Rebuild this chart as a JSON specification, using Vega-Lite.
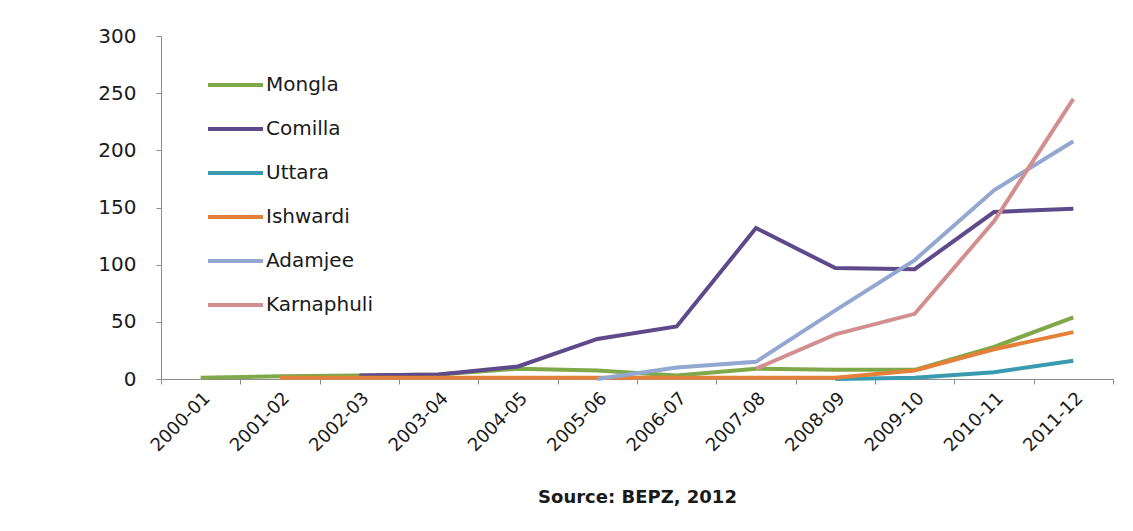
{
  "$schema": "https://vega.github.io/schema/vega-lite/v6.json",
  "autosize": "none",
  "width": 952,
  "height": 343,
  "padding": {"left": 161, "top": 36, "right": 20, "bottom": 152},
  "background": "white",
  "config": {
    "view": {"stroke": null},
    "font": "DejaVu Sans"
  },
  "data": {
    "values": [
      {"year": "2000-01", "zone": "Mongla", "value": 1},
      {"year": "2001-02", "zone": "Mongla", "value": 2.5},
      {"year": "2002-03", "zone": "Mongla", "value": 3},
      {"year": "2003-04", "zone": "Mongla", "value": 4},
      {"year": "2004-05", "zone": "Mongla", "value": 9},
      {"year": "2005-06", "zone": "Mongla", "value": 7.5},
      {"year": "2006-07", "zone": "Mongla", "value": 3},
      {"year": "2007-08", "zone": "Mongla", "value": 9},
      {"year": "2008-09", "zone": "Mongla", "value": 8},
      {"year": "2009-10", "zone": "Mongla", "value": 8},
      {"year": "2010-11", "zone": "Mongla", "value": 28},
      {"year": "2011-12", "zone": "Mongla", "value": 54},

      {"year": "2002-03", "zone": "Comilla", "value": 3},
      {"year": "2003-04", "zone": "Comilla", "value": 4},
      {"year": "2004-05", "zone": "Comilla", "value": 11},
      {"year": "2005-06", "zone": "Comilla", "value": 35},
      {"year": "2006-07", "zone": "Comilla", "value": 46},
      {"year": "2007-08", "zone": "Comilla", "value": 132},
      {"year": "2008-09", "zone": "Comilla", "value": 97},
      {"year": "2009-10", "zone": "Comilla", "value": 96},
      {"year": "2010-11", "zone": "Comilla", "value": 146},
      {"year": "2011-12", "zone": "Comilla", "value": 149},

      {"year": "2008-09", "zone": "Uttara", "value": 0},
      {"year": "2009-10", "zone": "Uttara", "value": 1},
      {"year": "2010-11", "zone": "Uttara", "value": 6},
      {"year": "2011-12", "zone": "Uttara", "value": 16},

      {"year": "2001-02", "zone": "Ishwardi", "value": 1},
      {"year": "2002-03", "zone": "Ishwardi", "value": 1},
      {"year": "2003-04", "zone": "Ishwardi", "value": 1},
      {"year": "2004-05", "zone": "Ishwardi", "value": 1},
      {"year": "2005-06", "zone": "Ishwardi", "value": 1},
      {"year": "2006-07", "zone": "Ishwardi", "value": 1},
      {"year": "2007-08", "zone": "Ishwardi", "value": 1},
      {"year": "2008-09", "zone": "Ishwardi", "value": 1},
      {"year": "2009-10", "zone": "Ishwardi", "value": 7.5},
      {"year": "2010-11", "zone": "Ishwardi", "value": 26},
      {"year": "2011-12", "zone": "Ishwardi", "value": 41},

      {"year": "2005-06", "zone": "Adamjee", "value": 0},
      {"year": "2006-07", "zone": "Adamjee", "value": 10},
      {"year": "2007-08", "zone": "Adamjee", "value": 15},
      {"year": "2008-09", "zone": "Adamjee", "value": 60},
      {"year": "2009-10", "zone": "Adamjee", "value": 104},
      {"year": "2010-11", "zone": "Adamjee", "value": 165},
      {"year": "2011-12", "zone": "Adamjee", "value": 208},

      {"year": "2007-08", "zone": "Karnaphuli", "value": 9},
      {"year": "2008-09", "zone": "Karnaphuli", "value": 39},
      {"year": "2009-10", "zone": "Karnaphuli", "value": 57},
      {"year": "2010-11", "zone": "Karnaphuli", "value": 138},
      {"year": "2011-12", "zone": "Karnaphuli", "value": 245}
    ]
  },
  "mark": {"type": "line", "strokeWidth": 4, "strokeJoin": "miter"},
  "encoding": {
    "x": {
      "field": "year",
      "type": "ordinal",
      "bandPosition": 0.5,
      "scale": {"type": "band", "paddingInner": 0, "paddingOuter": 0},
      "axis": {
        "title": "Source: BEPZ, 2012",
        "titleFont": "DejaVu Sans",
        "titleFontSize": 18,
        "titleFontWeight": "bold",
        "titleColor": "#1a1a1a",
        "titlePadding": 34,
        "labelAngle": -45,
        "labelFontSize": 18,
        "labelColor": "#1a1a1a",
        "labelPadding": 5,
        "tickBand": "extent",
        "tickSize": 5,
        "tickColor": "#8c8c8c",
        "domainColor": "#8c8c8c",
        "grid": false
      }
    },
    "y": {
      "field": "value",
      "type": "quantitative",
      "scale": {"domain": [0, 300], "nice": false},
      "axis": {
        "title": null,
        "values": [0, 50, 100, 150, 200, 250, 300],
        "labelFontSize": 20,
        "labelColor": "#1a1a1a",
        "labelPadding": 20,
        "tickSize": 5,
        "tickColor": "#8c8c8c",
        "domainColor": "#8c8c8c",
        "grid": false
      }
    },
    "color": {
      "field": "zone",
      "type": "nominal",
      "sort": ["Mongla", "Comilla", "Uttara", "Ishwardi", "Adamjee", "Karnaphuli"],
      "scale": {
        "domain": ["Mongla", "Comilla", "Uttara", "Ishwardi", "Adamjee", "Karnaphuli"],
        "range": ["#7fa84a", "#5e4a8b", "#3a9ab0", "#e3813a", "#92a8d0", "#d38f8f"]
      },
      "legend": {
        "title": null,
        "orient": "none",
        "legendX": 45,
        "legendY": 39,
        "symbolType": "stroke",
        "symbolSize": 3025,
        "symbolStrokeWidth": 4,
        "clipHeight": 20,
        "rowPadding": 24,
        "labelFontSize": 20,
        "labelColor": "#1a1a1a",
        "labelOffset": 1,
        "labelLimit": 300,
        "padding": 0
      }
    }
  }
}
